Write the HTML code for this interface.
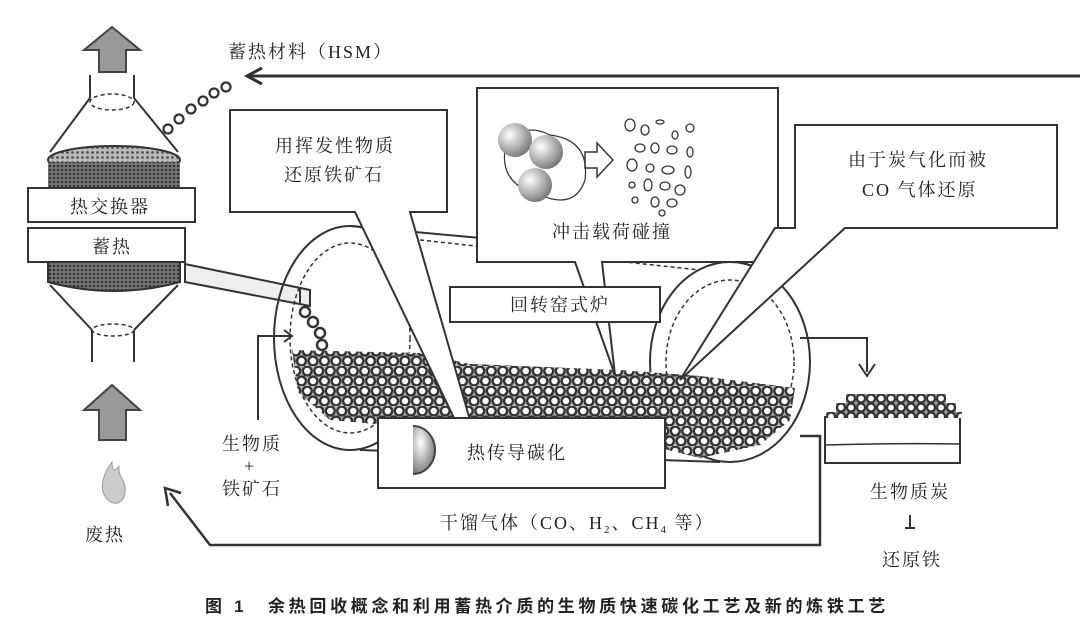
<!DOCTYPE html>
<html><head><meta charset="utf-8"><style>
html,body{margin:0;padding:0;background:#fff;}
svg{display:block;}
text{font-family:"Liberation Serif","Noto Serif CJK SC",serif;fill:#222;}
</style></head><body>
<svg width="1080" height="631" viewBox="0 0 1080 631" xmlns="http://www.w3.org/2000/svg">
<defs>
<pattern id="hatch" width="5" height="5" patternUnits="userSpaceOnUse"><rect width="5" height="5" fill="#bbb"/><circle cx="2.5" cy="2.5" r="1.4" fill="#555"/></pattern>
<pattern id="hatch2" width="4" height="4" patternUnits="userSpaceOnUse"><rect width="4" height="4" fill="#777"/><circle cx="2" cy="2" r="1.3" fill="#333"/></pattern>
<pattern id="bp" x="290" y="346" width="11.5" height="20" patternUnits="userSpaceOnUse">
<rect width="11.5" height="20" fill="#bbb"/>
<circle cx="5.75" cy="5" r="4.4" fill="#fff" stroke="#333" stroke-width="2.4"/>
<circle cx="0" cy="15" r="4.4" fill="#fff" stroke="#333" stroke-width="2.4"/>
<circle cx="11.5" cy="15" r="4.4" fill="#fff" stroke="#333" stroke-width="2.4"/>
</pattern>
<pattern id="tp" x="826" y="394" width="10" height="9" patternUnits="userSpaceOnUse">
<rect width="10" height="9" fill="#999"/>
<circle cx="5" cy="4.5" r="4" fill="#fff" stroke="#333" stroke-width="2.2"/>
</pattern>
<radialGradient id="sph" cx="0.35" cy="0.35" r="0.7"><stop offset="0" stop-color="#fff"/><stop offset="1" stop-color="#777"/></radialGradient>
</defs>
<g fill="none" stroke="#333" stroke-width="2">
<polygon points="99,72 126,72 126,50 140,50 112,27 84,50 99,50" fill="#999" stroke="#444"/>
<line x1="90" y1="75" x2="90" y2="98"/><line x1="134" y1="75" x2="134" y2="98"/>
<ellipse cx="112" cy="102" rx="22" ry="8" stroke-dasharray="4,3" stroke-width="1.5"/>
<line x1="90" y1="98" x2="50" y2="152"/><line x1="134" y1="98" x2="178" y2="152"/>
<ellipse cx="114" cy="160" rx="66" ry="14" fill="url(#hatch)"/>
<path d="M48 162 L48 190 L180 190 L180 162" fill="url(#hatch2)" stroke="none"/>
<path d="M48 258 L48 282 Q114 300 180 282 L180 258 Z" fill="url(#hatch2)"/>
<line x1="50" y1="285" x2="92" y2="330"/><line x1="178" y1="285" x2="134" y2="330"/>
<ellipse cx="113" cy="330" rx="21" ry="6" stroke-dasharray="4,3" stroke-width="1.5"/>
<line x1="92" y1="330" x2="92" y2="362"/><line x1="134" y1="330" x2="134" y2="362"/>
<rect x="28" y="188" width="167" height="34" fill="#fff"/>
<rect x="28" y="228" width="157" height="34" fill="#fff"/>
<polygon points="185,264 310,290 310,306 185,282" fill="#eee"/>
<line x1="300" y1="288" x2="300" y2="304"/>
<polygon points="99,440 126,440 126,410 140,410 112,385 84,410 99,410" fill="#999" stroke="#444"/>
<line x1="250" y1="76" x2="1080" y2="76" stroke-width="3"/>
<polyline points="262,68 247,76 262,84" stroke-width="3"/>
<g stroke-width="2.2"><circle cx="168" cy="129" r="4.5"/><circle cx="179" cy="119" r="4.5"/><circle cx="191" cy="109" r="4.5"/><circle cx="203" cy="101" r="4.5"/><circle cx="214" cy="93" r="4.5"/><circle cx="226" cy="87" r="4.5"/></g>
<ellipse cx="350" cy="338" rx="76" ry="112"/>
<ellipse cx="350" cy="338" rx="60" ry="95" stroke-dasharray="4,3" stroke-width="1.5"/>
<ellipse cx="730" cy="362" rx="80" ry="100"/>
<ellipse cx="730" cy="362" rx="64" ry="82" stroke-dasharray="4,3" stroke-width="1.5"/>
<line x1="350" y1="226" x2="740" y2="262"/>
<line x1="360" y1="450" x2="720" y2="462"/>
<line x1="420" y1="240" x2="700" y2="270" stroke-dasharray="4,3" stroke-width="1.5"/>
</g>
<polygon points="292,350 420,353 470,364 620,370 700,376 795,388 790,420 760,445 700,458 660,448 420,428 330,420 298,392" fill="url(#bp)"/>
<g fill="none" stroke="#333" stroke-width="2">
<g stroke-width="2.5"><circle cx="305" cy="312" r="5"/><circle cx="313" cy="322" r="5"/><circle cx="320" cy="333" r="5"/><circle cx="322" cy="345" r="5"/></g>
<polyline points="258,420 258,336 290,336"/><polyline points="284,330 292,336 284,342"/>
<polygon points="230,110 447,110 447,212 410,212 470,420 455,420 355,212 230,212" fill="#fff"/>
<polygon points="477,88 778,88 778,262 602,262 615,375 575,262 477,262" fill="#fff"/>
<polygon points="795,125 1057,125 1057,228 845,228 680,380 775,228 795,228" fill="#fff"/>
<rect x="450" y="287" width="210" height="35" fill="#fff"/>
<rect x="378" y="418" width="287" height="70" fill="#fff"/>
<path d="M413 426 A22 24 0 0 1 413 474" fill="url(#sph)" stroke="#444"/>
<path d="M505 150 Q520 120 550 135 Q590 140 585 180 Q575 210 540 195 Q500 185 505 150Z" stroke-width="1.2"/>
<circle cx="515" cy="140" r="17" fill="url(#sph)" stroke="none"/>
<circle cx="546" cy="152" r="17" fill="url(#sph)" stroke="none"/>
<circle cx="535" cy="185" r="17" fill="url(#sph)" stroke="none"/>
<polygon points="585,152 597,152 597,143 613,160 597,177 597,168 585,168" stroke-width="1.5"/>
<g stroke-width="1.3">
<ellipse cx="630" cy="125" rx="5" ry="6"/><ellipse cx="645" cy="130" rx="4" ry="5"/><ellipse cx="660" cy="122" rx="4" ry="2"/><ellipse cx="675" cy="135" rx="3" ry="4"/><ellipse cx="690" cy="128" rx="4" ry="4"/><ellipse cx="640" cy="148" rx="5" ry="4"/><ellipse cx="655" cy="148" rx="4" ry="5"/><ellipse cx="672" cy="150" rx="5" ry="4"/><ellipse cx="690" cy="152" rx="3" ry="5"/><ellipse cx="632" cy="165" rx="5" ry="6"/><ellipse cx="650" cy="168" rx="4" ry="4"/><ellipse cx="668" cy="170" rx="6" ry="4"/><ellipse cx="688" cy="172" rx="3" ry="6"/><ellipse cx="632" cy="185" rx="3" ry="3"/><ellipse cx="648" cy="185" rx="4" ry="6"/><ellipse cx="665" cy="186" rx="5" ry="4"/><ellipse cx="680" cy="190" rx="5" ry="5"/><ellipse cx="635" cy="200" rx="3" ry="3"/><ellipse cx="655" cy="202" rx="4" ry="5"/><ellipse cx="672" cy="203" rx="5" ry="4"/><ellipse cx="662" cy="213" rx="3" ry="3"/>
</g>
<polyline points="800,338 867,338 867,372"/><polyline points="859,364 867,376 875,364"/>
<rect x="825" y="417" width="135" height="46"/>
<path d="M825 445 Q890 443 960 444" stroke-width="1.5"/>
<line x1="910" y1="515" x2="910" y2="528"/><line x1="905" y1="528" x2="915" y2="528"/>
<polyline points="800,436 820,436 820,545 210,545 170,493" stroke-width="2.5"/>
<polyline points="168,506 165,488 181,493" stroke-width="2.5"/>
</g>
<polygon points="826,418 826,412 836,412 836,403 846,403 846,394 946,394 946,403 956,403 956,412 962,412 962,418" fill="url(#tp)"/>
<path d="M112 462 Q100 478 103 492 Q108 505 118 503 Q128 498 124 482 Q118 474 119 466 Q112 476 112 462Z" fill="#ccc" stroke="#999"/>
<g font-size="18" letter-spacing="2">
<text x="228" y="58">蓄热材料（HSM）</text>
<text x="70" y="213">热交换器</text>
<text x="92" y="253">蓄热</text>
<text x="275" y="152">用挥发性物质</text>
<text x="284" y="181">还原铁矿石</text>
<text x="552" y="238">冲击载荷碰撞</text>
<text x="848" y="166">由于炭气化而被</text>
<text x="862" y="196">CO 气体还原</text>
<text x="510" y="311">回转窑式炉</text>
<text x="467" y="459">热传导碳化</text>
<text x="222" y="450">生物质</text>
<text x="244" y="472">+</text>
<text x="222" y="495">铁矿石</text>
<text x="85" y="541">废热</text>
<text x="440" y="529">干馏气体（CO、H<tspan font-size="11" dy="4">2</tspan><tspan dy="-4">、CH</tspan><tspan font-size="11" dy="4">4</tspan><tspan dy="-4"> 等）</tspan></text>
<text x="870" y="498">生物质炭</text>
<text x="882" y="566">还原铁</text>
</g>
<text x="205" y="612" font-size="17" letter-spacing="3.7" font-weight="bold" style="font-family:'Liberation Sans','Noto Sans CJK SC',sans-serif">图 1　余热回收概念和利用蓄热介质的生物质快速碳化工艺及新的炼铁工艺</text>
</svg>
</body></html>
